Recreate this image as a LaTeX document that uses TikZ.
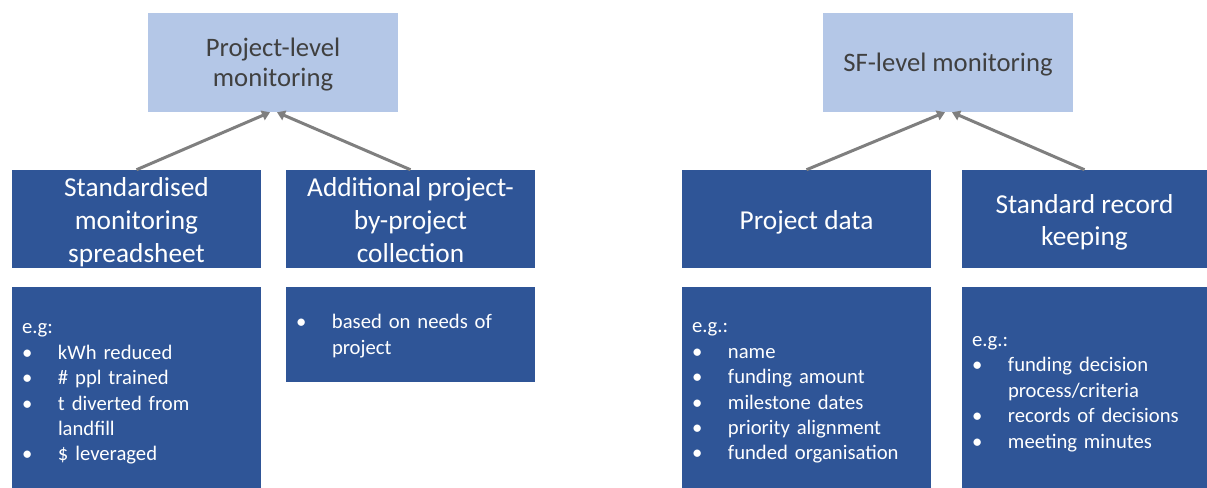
\documentclass[tikz,border=0pt]{standalone}
\usepackage{fontspec}
\setmainfont{Carlito}
\usetikzlibrary{positioning, arrows.meta}

\definecolor{boxblue}{HTML}{2F5597}
\definecolor{lightblue}{HTML}{B4C7E7}
\definecolor{textgray}{HTML}{404040}
\definecolor{arrowgray}{HTML}{7F7F7F}

% bullet with a hanging indent, and the indent alone for wrapped lines
\newcommand{\bul}{\makebox[27pt][l]{\textbullet}}
\newcommand{\cont}{\hspace*{27pt}}
% set text a little lower in its box, keeping the box size
\newcommand{\sunk}[2]{\raisebox{-#1}[\height][\depth]{#2}}
\newcommand{\lines}[1]{\begin{tabular}{@{}c@{}}#1\end{tabular}}

\begin{document}
\begin{tikzpicture}[
    x=0.75pt, y=-0.75pt,
    node distance=13.5pt,
    level/.style={fill=lightblue, text=textgray, minimum width=187.5pt,
        minimum height=74.25pt, inner sep=0pt,
        font=\fontsize{20}{23}\selectfont},
    source/.style={fill=boxblue, text=white, minimum width=186.75pt,
        minimum height=73.5pt, inner sep=0pt,
        font=\fontsize{20.5}{24.5}\selectfont},
    detail/.style={fill=boxblue, text=white, text width=171.75pt,
        inner xsep=7.5pt, inner ysep=0pt, align=left,
        font=\fontsize{15.5}{19.1}\selectfont},
    feed/.style={-{Triangle[length=6pt, width=7.5pt]}, arrowgray, line width=2.25pt}
]
\useasboundingbox (0,0) rectangle (1207,487);

% project side
\node[level] (plevel) at (273,62.5) {\sunk{2.25pt}{\lines{Project-level\\monitoring}}};

\node[source] (sheet) at (136.5,219) {\sunk{3pt}{\lines{Standardised\\monitoring\\spreadsheet}}};
\node[source] (extra) at (410.5,219) {\sunk{3pt}{\lines{Additional project-\\by-project\\collection}}};

\node[detail, minimum height=150.75pt, below=of sheet] (sheetex)
    {\sunk{5.25pt}{\parbox{\hsize}{e.g:\\
     \bul kWh reduced\\
     \bul \# ppl trained\\
     \bul t diverted from\\
     \cont landfill\\
     \bul \$ leveraged}}};
\node[detail, minimum height=71.25pt, below=of extra] (extraex)
    {\sunk{1.5pt}{\parbox{\hsize}{\bul based on needs of\\
     \cont project}}};

\draw[feed] (sheet.north) -- ([xshift=-2.25pt]plevel.south);
\draw[feed] (extra.north) -- ([xshift=3pt]plevel.south);

% SF side
\node[level] (sflevel) at (948,62.5) {\sunk{2.25pt}{\lines{SF-level monitoring}}};

\node[source] (pdata) at (806.5,219) {\sunk{3pt}{\lines{Project data}}};
\node[source, minimum width=183.75pt] (records) at (1084.5,219)
    {\sunk{3pt}{\lines{Standard record\\keeping}}};

\node[detail, minimum height=150.75pt, below=of pdata] (pdataex)
    {\sunk{4.5pt}{\parbox{\hsize}{e.g.:\\
     \bul name\\
     \bul funding amount\\
     \bul milestone dates\\
     \bul priority alignment\\
     \bul funded organisation}}};
\node[detail, text width=168.75pt, minimum height=150.75pt, below=of records] (recordsex)
    {\sunk{5.25pt}{\parbox{\hsize}{e.g.:\\
     \bul funding decision\\
     \cont process/criteria\\
     \bul records of decisions\\
     \bul meeting minutes}}};

\draw[feed] (pdata.north) -- ([xshift=-2.25pt]sflevel.south);
\draw[feed] (records.north) -- ([xshift=3pt]sflevel.south);

\end{tikzpicture}
\end{document}
